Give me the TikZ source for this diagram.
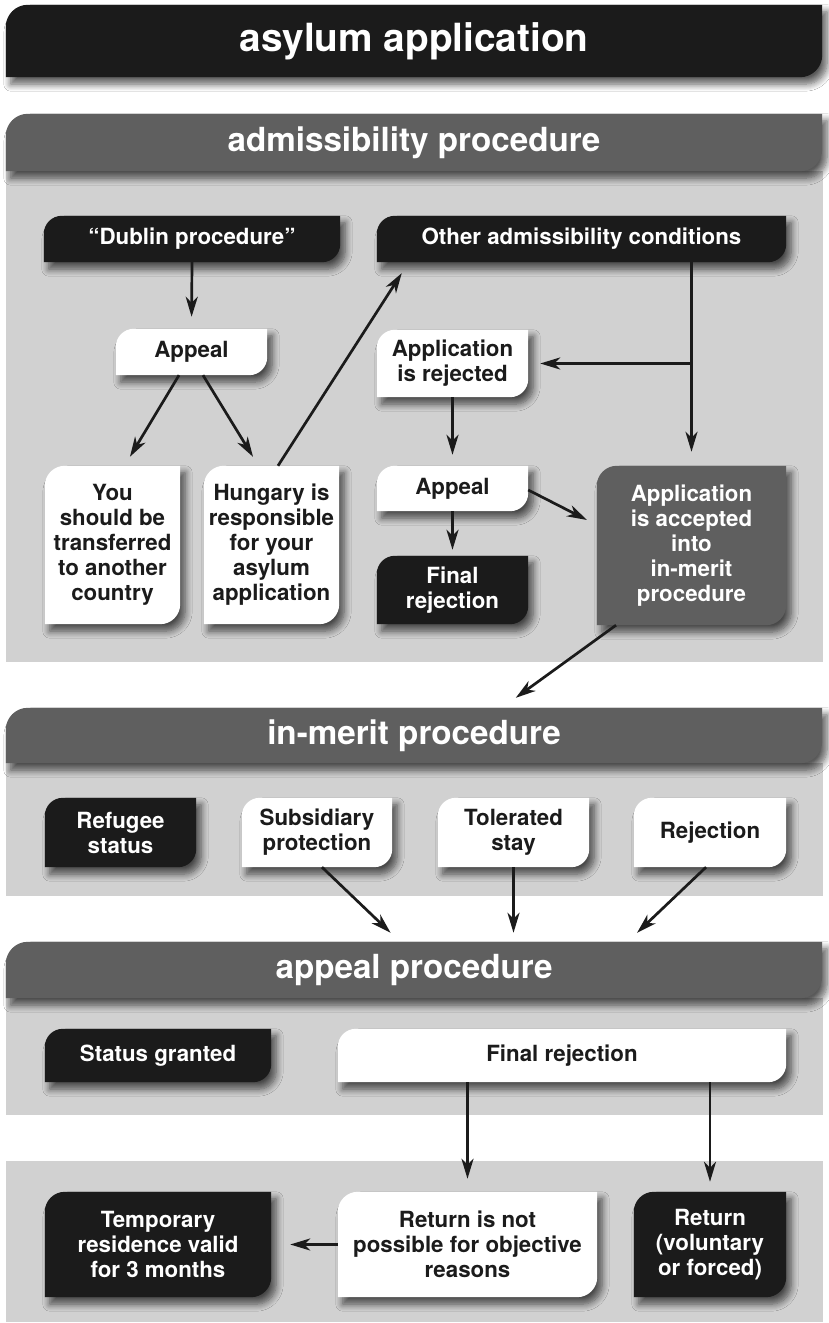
\documentclass[tikz,border=0pt]{standalone}
\usepackage{fontspec}
\setmainfont{TeX Gyre Heros}
\usetikzlibrary{arrows.meta,shadows.blur}
\definecolor{ink}{HTML}{1B1B1B}
\definecolor{midgray}{HTML}{5F5F5F}
\definecolor{panelgray}{HTML}{D1D1D1}
\pgfdeclarelayer{bg}
\pgfsetlayers{bg,main}
\newcommand\bx[7]{\node[#6, minimum width={(#4-#2)*1pt}, minimum height={(#5-#3)*1pt}] (#1) at ({(#2+#4)/2},{1323-(#3+#5)/2}) {#7};}
\newcommand\leaf[3]{\fill[#2] (#1.south west) -- ([yshift=-#3]#1.north west) arc[start angle=180,end angle=90,radius=#3] -- (#1.north east) -- ([yshift=#3]#1.south east) arc[start angle=0,end angle=-90,radius=#3] -- cycle;}
\tikzset{
  lbl/.style={inner sep=0pt, align=center, font=\bfseries\fontsize{22.3}{25}\selectfont},
  onwhite/.style={lbl, text=ink},
  ondark/.style={lbl, text=white},
  hdr/.style={inner sep=0pt, text=white, font=\bfseries\fontsize{33.2}{38}\selectfont},
  ttl/.style={inner sep=0pt, text=white, font=\bfseries\fontsize{38.8}{44}\selectfont},
  arr/.style={draw=ink, line width=2.7pt, -{Stealth[length=20pt,width=12pt,inset=6pt]}},
  shd/.style={blur shadow={shadow xshift=5pt, shadow yshift=-7pt, shadow blur radius=7pt, shadow blur steps=8, shadow opacity=65}},
}
\begin{document}
\begin{tikzpicture}[x=1pt,y=1pt]
\useasboundingbox (0,0) rectangle (829,1323);
% nodes
\bx{hT}{6}{5}{822}{77}{ttl}{asylum application}
\bx{hA}{6}{114}{822}{171}{hdr}{admissibility procedure}
\bx{dub}{44}{216}{340}{262}{ondark}{“Dublin procedure”}
\bx{oth}{377}{216}{786}{262}{ondark}{Other admissibility conditions}
\bx{apa}{116}{329}{267}{375}{onwhite}{Appeal}
\bx{rej}{377}{330}{528}{397}{onwhite}{Application\\is rejected}
\bx{you}{45}{466}{180}{624}{onwhite}{You\\should be\\transferred\\to another\\country}
\bx{hun}{204}{466}{339}{624}{onwhite}{Hungary is\\responsible\\for your\\asylum\\application}
\bx{apb}{377}{466}{528}{511}{onwhite}{Appeal}
\bx{fna}{377}{556}{528}{624}{ondark}{Final\\rejection}
\bx{acc}{597}{466}{786}{625}{ondark}{Application\\is accepted\\into\\in-merit\\procedure}
\bx{hM}{6}{708}{822}{763}{hdr}{in-merit procedure}
\bx{ref}{45}{798}{196}{867}{ondark}{Refugee\\status}
\bx{sub}{242}{798}{392}{867}{onwhite}{Subsidiary\\protection}
\bx{tol}{438}{798}{589}{867}{onwhite}{Tolerated\\stay}
\bx{rjn}{634}{798}{786}{867}{onwhite}{Rejection}
\bx{hP}{6}{942}{822}{998}{hdr}{appeal procedure}
\bx{sg}{45}{1029}{271}{1082}{ondark}{Status granted}
\bx{fnb}{338}{1029}{786}{1082}{onwhite}{Final rejection}
\bx{tmp}{45}{1192}{271}{1297}{ondark}{Temporary\\residence valid\\for 3 months}
\bx{rnp}{338}{1192}{597}{1297}{onwhite}{Return is not\\possible for objective\\reasons}
\bx{ret}{634}{1192}{786}{1297}{ondark}{Return\\(voluntary\\or forced)}
% connectors
\draw[arr, shorten >=12pt] (dub.south) -- (apa.north);
\draw[arr, shorten >=10.5pt] ([xshift=-12.5pt]apa.south) -- ([xshift=12pt]you.north);
\draw[arr, shorten >=10.5pt] ([xshift=11.5pt]apa.south) -- ([xshift=-13pt]hun.north);
\draw[arr, shorten >=13pt] ([xshift=6.5pt]hun.north) -- ([xshift=32pt]oth.south west);
\coordinate (br) at (acc.north |- rej.east);
\draw[arr, shorten >=14pt] (acc.north |- oth.south) -- (acc.north);
\draw[arr, shorten >=12pt] (br) -- (rej.east);
\draw[arr, shorten >=11pt] (rej.south) -- (apb.north);
\draw[arr, shorten >=6pt] (apb.south) -- (fna.north);
\draw[arr, shorten >=11pt] ([yshift=-1.5pt]apb.east) -- ([yshift=20.5pt]acc.west);
\draw[arr, shorten >=17pt] ([xshift=-75.5pt]acc.south) -- ([xshift=88pt]hM.north);
\draw[arr, shorten >=13pt] ([xshift=5pt]sub.south) -- ([xshift=-14pt]hP.north);
\draw[arr, shorten >=9pt] (tol.south) -- (tol.south |- hP.north);
\draw[arr, shorten >=13pt] ([xshift=-4pt]rjn.south) -- ([xshift=213.6pt]hP.north);
\draw[arr, shorten >=13pt] (rnp.north |- fnb.south) -- (rnp.north);
\draw[arr, shorten >=10pt] (ret.north |- fnb.south) -- (ret.north);
\draw[arr, shorten >=19pt] (rnp.west) -- (tmp.east);
% backgrounds
\begin{pgfonlayer}{bg}
\fill[white] (0,0) rectangle (829,1323);
\fill[panelgray] (6,1323-662) rectangle (823,1323-171);
\fill[panelgray] (6,1323-896) rectangle (823,1323-763);
\fill[panelgray] (6,1323-1115) rectangle (823,1323-998);
\fill[panelgray] (6,1323-1322) rectangle (823,1323-1161);
\leaf{hT}{ink,shd}{22pt}
\leaf{hA}{midgray,shd}{22pt}
\leaf{hM}{midgray,shd}{22pt}
\leaf{hP}{midgray,shd}{22pt}
\leaf{dub}{ink,shd}{18pt}
\leaf{oth}{ink,shd}{18pt}
\leaf{apa}{white,shd}{18pt}
\leaf{rej}{white,shd}{18pt}
\leaf{you}{white,shd}{20pt}
\leaf{hun}{white,shd}{20pt}
\leaf{apb}{white,shd}{18pt}
\leaf{fna}{ink,shd}{18pt}
\leaf{acc}{midgray,shd}{20pt}
\leaf{ref}{ink,shd}{18pt}
\leaf{sub}{white,shd}{18pt}
\leaf{tol}{white,shd}{18pt}
\leaf{rjn}{white,shd}{18pt}
\leaf{sg}{ink,shd}{18pt}
\leaf{fnb}{white,shd}{18pt}
\leaf{tmp}{ink,shd}{20pt}
\leaf{rnp}{white,shd}{20pt}
\leaf{ret}{ink,shd}{20pt}
\end{pgfonlayer}
\end{tikzpicture}
\end{document}
